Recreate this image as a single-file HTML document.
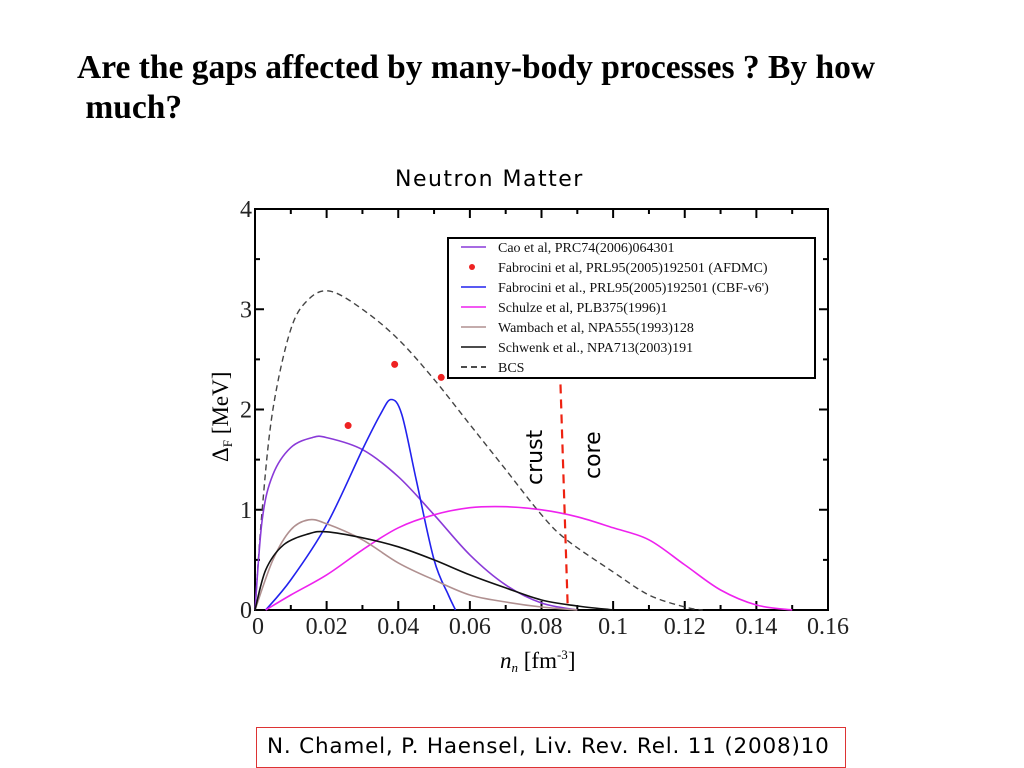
<!DOCTYPE html>
<html><head><meta charset="utf-8"><style>
body{margin:0;width:1024px;height:768px;background:#fff;position:relative;overflow:hidden;font-family:"Liberation Serif",serif}
.t{position:absolute;margin:0}
</style></head><body>
<div class="t" style="left:77px;top:48px;font-size:33.5px;font-weight:bold;line-height:40px;">Are the gaps affected by many-body processes ? By how<br>&nbsp;much?</div>
<div class="t" style="left:395px;top:167px;font-family:'DejaVu Sans',sans-serif;font-size:22px;letter-spacing:1.5px;">Neutron Matter</div>
<div class="t" style="left:256px;top:727px;width:590px;height:41px;border:1px solid #d33;box-sizing:border-box;font-family:'DejaVu Sans',sans-serif;font-size:21.5px;letter-spacing:0.8px;line-height:38px;padding-left:10px;white-space:nowrap;">N. Chamel, P. Haensel, Liv. Rev. Rel. 11 (2008)10</div>
<svg id="chart" width="1024" height="768" style="position:absolute;left:0;top:0"></svg>
<script>
const xTicks=[0,0.02,0.04,0.06,0.08,0.1,0.12,0.14,0.16];
const xTickLabels=["0","0.02","0.04","0.06","0.08","0.1","0.12","0.14","0.16"];
const yTicks=[0,1,2,3,4];
const yTickLabels=["0","1","2","3","4"];
const bcs=[[0,0],[0.002,1.0],[0.005,2.0],[0.01,2.8],[0.015,3.1],[0.021,3.18],[0.03,3.0],[0.04,2.7],[0.05,2.3],[0.06,1.85],[0.07,1.4],[0.08,0.95],[0.087,0.7],[0.1,0.38],[0.11,0.15],[0.12,0.03],[0.125,0]];
const cao=[[0,0],[0.002,0.9],[0.005,1.35],[0.01,1.62],[0.016,1.72],[0.02,1.72],[0.03,1.6],[0.04,1.33],[0.05,0.95],[0.06,0.55],[0.07,0.25],[0.08,0.07],[0.09,0]];
const cbf=[[0.003,0],[0.01,0.3],[0.02,0.85],[0.03,1.6],[0.035,1.95],[0.038,2.1],[0.041,1.95],[0.045,1.3],[0.05,0.5],[0.054,0.15],[0.056,0]];
const schulze=[[0.003,0],[0.01,0.15],[0.02,0.35],[0.03,0.6],[0.04,0.82],[0.05,0.95],[0.06,1.02],[0.07,1.03],[0.08,1.0],[0.09,0.93],[0.1,0.82],[0.11,0.7],[0.12,0.45],[0.13,0.2],[0.14,0.05],[0.15,0]];
const wambach=[[0,0],[0.005,0.5],[0.01,0.8],[0.015,0.9],[0.02,0.86],[0.03,0.7],[0.04,0.47],[0.05,0.3],[0.06,0.15],[0.07,0.08],[0.08,0.03],[0.09,0]];
const schwenk=[[0,0],[0.003,0.4],[0.008,0.65],[0.015,0.76],[0.02,0.78],[0.03,0.72],[0.04,0.63],[0.05,0.5],[0.06,0.35],[0.07,0.22],[0.08,0.1],[0.09,0.04],[0.1,0]];
const afdmc=[[0.026,1.84],[0.039,2.45],[0.052,2.32]];
const divider=[[0.0853,2.25],[0.0873,0.05]];
const legendLabels=["Cao et al, PRC74(2006)064301","Fabrocini et al, PRL95(2005)192501 (AFDMC)","Fabrocini et al., PRL95(2005)192501 (CBF-v6')","Schulze et al, PLB375(1996)1","Wambach et al, NPA555(1993)128","Schwenk et al., NPA713(2003)191","BCS"];

const L=255,R=828,T=209,B=610;
const X=v=>L+v/0.16*(R-L);
const Y=v=>B-v/4*(B-T);
const svg=document.getElementById('chart');
const NS='http://www.w3.org/2000/svg';
function mk(tag,attrs,parent){const e=document.createElementNS(NS,tag);for(const k in attrs)e.setAttribute(k,attrs[k]);(parent||svg).appendChild(e);return e;}
let f=mk('rect',{x:L,y:T,width:R-L,height:B-T,fill:'none',stroke:'#000','stroke-width':2});


for(let v=0;v<=0.1601;v+=0.01){const major=Math.round(v*100)%2===0;const len=major?9:5;
 mk('line',{x1:X(v),x2:X(v),y1:B,y2:B-len,stroke:'#000','stroke-width':2});
 mk('line',{x1:X(v),x2:X(v),y1:T,y2:T+len,stroke:'#000','stroke-width':2});}
for(let v=0;v<=4.001;v+=0.5){const major=Math.abs(v-Math.round(v))<0.01;const len=major?9:5;
 mk('line',{x1:L,x2:L+len,y1:Y(v),y2:Y(v),stroke:'#000','stroke-width':2});
 mk('line',{x1:R,x2:R-len,y1:Y(v),y2:Y(v),stroke:'#000','stroke-width':2});}
xTicks.forEach((v,i)=>{const t=mk('text',{x:X(v)+(i===0?3:0),y:B+24,'text-anchor':'middle','font-size':24,'font-family':'Liberation Serif,serif',fill:'#222'});t.textContent=xTickLabels[i];
 
 });
yTicks.forEach((v,i)=>{const t=mk('text',{x:L-3,y:Y(v)+8,'text-anchor':'end','font-size':24,'font-family':'Liberation Serif,serif',fill:'#222'});t.textContent=yTickLabels[i];
 
 });
let xt=mk('text',{x:500,y:668,'font-size':23,'font-family':'Liberation Serif,serif'});
xt.innerHTML='<tspan font-style="italic">n</tspan><tspan font-size="13" dy="4" font-style="italic">n</tspan><tspan dy="-4"> [fm</tspan><tspan font-size="13" dy="-9">-3</tspan><tspan dy="9">]</tspan>';


let yt=mk('text',{transform:'translate(228,462) rotate(-90)','font-size':23,'font-family':'Liberation Serif,serif'});
yt.innerHTML='Δ<tspan font-size="13" dy="4">F</tspan><tspan dy="-4"> [MeV]</tspan>';


function smooth(pts){let d='M'+pts[0][0].toFixed(1)+','+pts[0][1].toFixed(1);
 for(let i=0;i<pts.length-1;i++){const p0=pts[Math.max(0,i-1)],p1=pts[i],p2=pts[i+1],p3=pts[Math.min(pts.length-1,i+2)];
  const c1=[p1[0]+(p2[0]-p0[0])/6,p1[1]+(p2[1]-p0[1])/6],c2=[p2[0]-(p3[0]-p1[0])/6,p2[1]-(p3[1]-p1[1])/6];
  d+=' C'+c1.map(v=>v.toFixed(1)).join(',')+' '+c2.map(v=>v.toFixed(1)).join(',')+' '+p2.map(v=>v.toFixed(1)).join(',');}
 return d;}
function line(data,color,name,extra,noSmooth){const pts=data.map(p=>[X(p[0]),Y(p[1])]);
 const d=noSmooth?pts.map((p,i)=>(i?'L':'M')+p[0]+','+p[1]).join(' '):smooth(pts);
 const attrs={d:d,fill:'none',stroke:color,'stroke-width':1.6,'stroke-linejoin':'round'};Object.assign(attrs,extra||{});
 const p=mk('path',attrs);
 
 }
line(bcs,'#444','bcs-line',{'stroke-dasharray':'6,4','stroke-width':1.4});
line(cao,'#8a3ad8','cao-line');
line(cbf,'#2222ee','fabrocini-cbf-line');
line(schulze,'#ee22ee','schulze-line');
line(wambach,'#b09090','wambach-line');
line(schwenk,'#111','schwenk-line');
line(divider,'#e21','crust-core-divider',{'stroke-dasharray':'9,6','stroke-width':2.2},true);
afdmc.forEach(p=>{const c=mk('circle',{cx:X(p[0]),cy:Y(p[1]),r:3.5,fill:'#e22'});
 
 });
let cr=mk('text',{transform:'translate(542,485) rotate(-90)','font-size':22,'font-family':'DejaVu Sans,sans-serif'});cr.textContent='crust';


let co=mk('text',{transform:'translate(600,479) rotate(-90)','font-size':22,'font-family':'DejaVu Sans,sans-serif'});co.textContent='core';


const lg=mk('g',{});


mk('rect',{x:448,y:238,width:367,height:140,fill:'#fff',stroke:'#000','stroke-width':2},lg);
const lc=['#8a3ad8','#e22','#2222ee','#ee22ee','#b09090','#111','#111'];
legendLabels.forEach((s,i)=>{const y=247+i*20;
 if(i===1){mk('circle',{cx:472,cy:y,r:3,fill:'#e22'},lg);}
 else mk('line',{x1:461,x2:486,y1:y,y2:y,stroke:lc[i],'stroke-width':1.6,'stroke-dasharray':i===6?'6,4':'none'},lg);
 const t=mk('text',{x:498,y:y+5,'font-size':14,'font-family':'Liberation Serif,serif',fill:'#111'},lg);t.textContent=s;
 
 });
</script>
</body></html>
